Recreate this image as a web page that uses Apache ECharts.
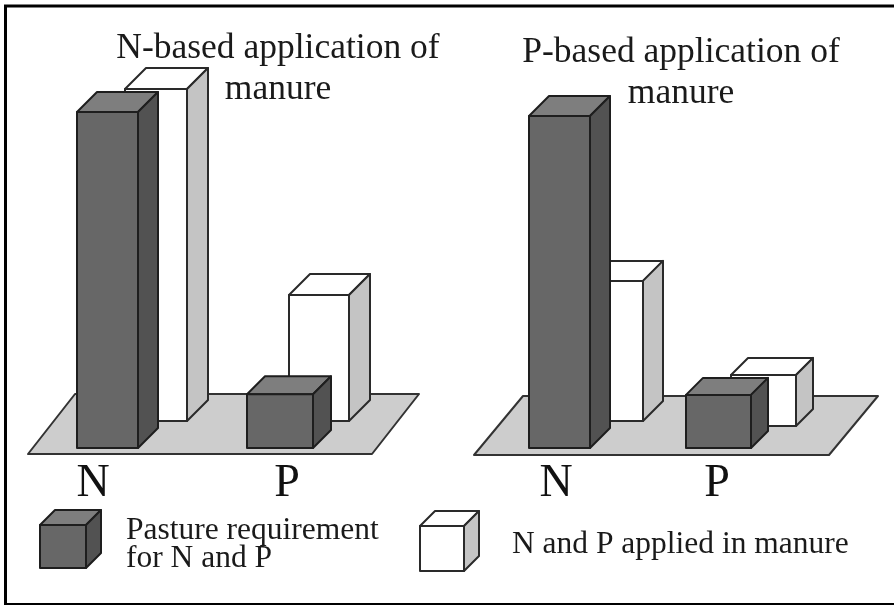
<!DOCTYPE html>
<html>
<head>
<meta charset="utf-8">
<style>
  html, body { margin: 0; padding: 0; background: #fff; }
  #chart { width: 894px; height: 605px; filter: blur(0.45px); }
</style>
<script src="https://cdn.jsdelivr.net/npm/echarts@6/dist/echarts.min.js"></script>
</head>
<body>
<div id="chart"></div>
<script>
// values relative to the pasture N requirement (100 = tallest dark bar)
const categories = ['N', 'P'];
const nBasedRequirement = [100, 16];
const nBasedApplied = [98.8, 37.5];
const pBasedRequirement = [98.8, 15.8];
const pBasedApplied = [41.7, 15.2];

const titleLeft = 'N-based application of\nmanure';
const titleRight = 'P-based application of\nmanure';
const legendRequirement = 'Pasture requirement\nfor N and P';
const legendApplied = 'N and P applied in manure';

const SERIF = '"Liberation Serif", "DejaVu Serif", serif';
const DARK = { front: '#676767', top: '#7e7e7e', side: '#525252', line: '#1e1e1e' };
const LIGHT = { front: '#ffffff', top: '#ffffff', side: '#c4c4c4', line: '#2a2a2a' };

// where each bar sits relative to its category band (the fake 3d layout)
const placeN_req = [{ dx: 14.5, w: 61, dy: 0, d: 20 }, { dx: -7, w: 66, dy: 0, d: 18 }];
const placeN_app = [{ dx: 63, w: 62, dy: -27, d: 21 }, { dx: 32, w: 60, dy: -27, d: 21 }];
const placeP_req = [{ dx: 3.5, w: 61, dy: 0, d: 20 }, { dx: 1.5, w: 65, dy: 0, d: 17 }];
const placeP_app = [{ dx: 56.5, w: 61, dy: -27, d: 20 }, { dx: 46.5, w: 65, dy: -22, d: 17 }];

function cubeShapes(x0, x1, y0, y1, d, col) {
  const style = fill => ({ fill: fill, stroke: col.line, lineWidth: 2, lineJoin: 'round' });
  const poly = (points, fill) => ({ type: 'polygon', shape: { points: points }, style: style(fill) });
  return [
    poly([[x0, y0], [x0 + d, y0 - d], [x1 + d, y0 - d], [x1, y0]], col.top),
    poly([[x1, y0], [x1 + d, y0 - d], [x1 + d, y1 - d], [x1, y1]], col.side),
    poly([[x0, y0], [x1, y0], [x1, y1], [x0, y1]], col.front)
  ];
}

function barSeries(values, places, col, axisIndex) {
  return {
    type: 'custom',
    xAxisIndex: axisIndex,
    yAxisIndex: axisIndex,
    silent: true,
    data: values.map((v, i) => [i, v]),
    encode: { x: 0, y: 1 },
    renderItem: (params, api) => {
      const i = api.value(0);
      const top = api.coord([i, api.value(1)]);
      const base = api.coord([i, 0]);
      const p = places[i];
      const x0 = top[0] + p.dx - p.w / 2;
      return {
        type: 'group',
        children: cubeShapes(x0, x0 + p.w, top[1] + p.dy, base[1] + p.dy, p.d, col)
      };
    }
  };
}

// grey floor under the bars, hung off the plot rectangle
function floorSeries(axisIndex, f) {
  return {
    type: 'custom',
    xAxisIndex: axisIndex,
    yAxisIndex: axisIndex,
    silent: true,
    data: [[0, 0]],
    encode: { x: 0, y: 1 },
    renderItem: (params, api) => {
      const rect = params.coordSys;
      const y = rect.y + rect.height + f.below;
      const a = rect.x + f.inset;
      const b = rect.x + rect.width + f.outset;
      return {
        type: 'polygon',
        shape: { points: [[a, y], [b, y], [b + f.dx, y - f.dy], [a + f.dx, y - f.dy]] },
        style: { fill: '#cdcdcd', stroke: '#333', lineWidth: 2, lineJoin: 'round' }
      };
    }
  };
}

function cubeGraphic(x0, x1, y0, y1, d, col) {
  return { type: 'group', children: cubeShapes(x0, x1, y0, y1, d, col) };
}

function textGraphic(text, x, y, size, lineHeight, align) {
  return {
    type: 'text',
    x: x,
    y: y,
    style: {
      text: text,
      fill: '#1a1a1a',
      font: size + 'px ' + SERIF,
      lineHeight: lineHeight,
      align: align,
      verticalAlign: 'top'
    }
  };
}

const xAxisBase = {
  type: 'category',
  data: categories,
  axisLine: { show: false },
  axisTick: { show: false },
  axisLabel: { color: '#111', fontFamily: SERIF, fontSize: 46, margin: 13, interval: 0 }
};
const yAxisBase = { type: 'value', min: 0, max: 100, show: false, splitLine: { show: false } };

const option = {
  animation: false,
  backgroundColor: '#ffffff',
  grid: [
    { left: -4, width: 388, top: 112, height: 336, outerBoundsMode: 'none' },
    { left: 475.5, width: 322, top: 112, height: 336, outerBoundsMode: 'none' }
  ],
  xAxis: [Object.assign({ gridIndex: 0 }, xAxisBase), Object.assign({ gridIndex: 1 }, xAxisBase)],
  yAxis: [Object.assign({ gridIndex: 0 }, yAxisBase), Object.assign({ gridIndex: 1 }, yAxisBase)],
  series: [
    floorSeries(0, { below: 6, inset: 32, outset: -12, dx: 47, dy: 60 }),
    barSeries(nBasedApplied, placeN_app, LIGHT, 0),
    barSeries(nBasedRequirement, placeN_req, DARK, 0),
    floorSeries(1, { below: 7, inset: -1.5, outset: 31.5, dx: 49, dy: 59 }),
    barSeries(pBasedApplied, placeP_app, LIGHT, 1),
    barSeries(pBasedRequirement, placeP_req, DARK, 1)
  ],
  graphic: [
    // the frame is open on the right, it runs off the image
    {
      type: 'polyline',
      shape: { points: [[896, 6], [5.5, 6], [5.5, 604.5], [896, 604.5]] },
      style: { fill: 'none', stroke: '#000', lineWidth: 3 }
    },
    textGraphic(titleLeft, 278, 28, 35.5, 41, 'center'),
    textGraphic(titleRight, 681, 32, 35.5, 41, 'center'),
    cubeGraphic(40, 86, 525, 568, 15, DARK),
    cubeGraphic(420, 464, 526, 571, 15, LIGHT),
    textGraphic(legendRequirement, 126, 517, 31.5, 28, 'left'),
    textGraphic(legendApplied, 512, 531, 31.5, 28, 'left')
  ]
};

const myChart = echarts.init(document.getElementById('chart'), null, { renderer: 'canvas' });
myChart.setOption(option);
</script>
</body>
</html>
